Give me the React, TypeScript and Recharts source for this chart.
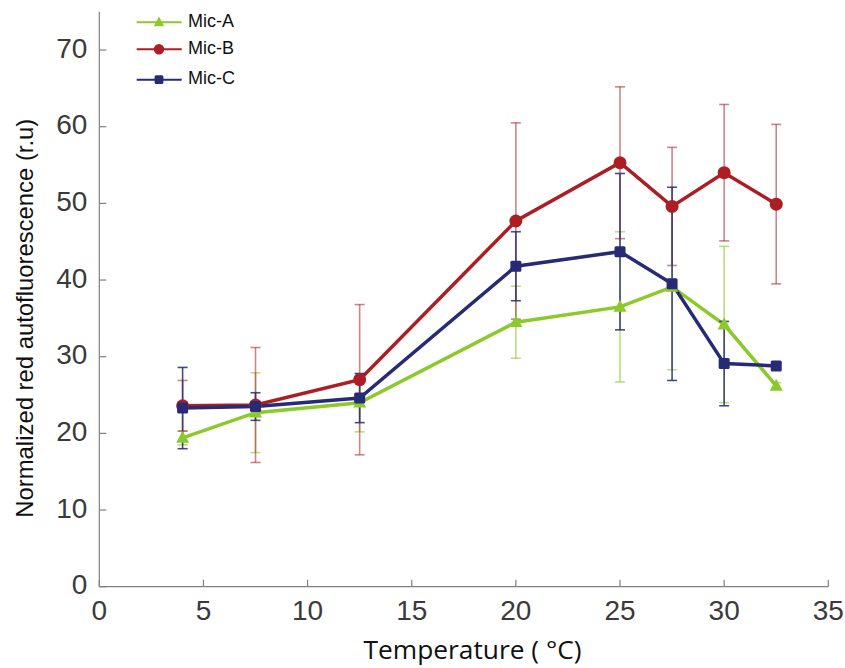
import { LineChart, Line, XAxis, YAxis, ErrorBar, Legend, Label } from 'recharts';

// temperature (°C) of each measurement
const temps = [4, 7.5, 12.5, 20, 25, 27.5, 30, 32.5];

const micA = [19.4, 22.7, 24.0, 34.5, 36.5, 39.1, 34.2, 26.2];
const micAErr = [0.9, 5.2, 3.8, 4.7, 9.8, 10.8, 10.2, 0.4];

const micB = [23.6, 23.7, 27.0, 47.7, 55.3, 49.6, 54.0, 49.9];
const micBErr = [3.3, 7.5, 9.8, 12.8, 9.9, 7.7, 8.9, 10.4];

const micC = [23.3, 23.5, 24.6, 41.8, 43.7, 39.5, 29.1, 28.8];
const micCErr = [5.3, 1.8, 3.2, 4.5, 10.2, 12.6, 5.5, 0.4];

const xTicks = [0, 5, 10, 15, 20, 25, 30, 35];
const yTicks = [0, 10, 20, 30, 40, 50, 60, 70];

const GREEN = '#8cc92a';
const RED = '#ac1e24';
const NAVY = '#272b75';

const data = temps.map((t, i) => ({
  t,
  a: micA[i],
  aErr: micAErr[i],
  b: micB[i],
  bErr: micBErr[i],
  c: micC[i],
  cErr: micCErr[i],
}));

const triangle = (cx: number, cy: number, s: number, color: string) => (
  <polygon
    points={`${cx},${cy - s * 1.1} ${cx - s},${cy + s * 0.75} ${cx + s},${cy + s * 0.75}`}
    fill={color}
  />
);
const circle = (cx: number, cy: number, s: number, color: string) => (
  <circle cx={cx} cy={cy} r={s} fill={color} />
);
const square = (cx: number, cy: number, s: number, color: string) => (
  <rect x={cx - s} y={cy - s} width={s * 2} height={s * 2} rx={1.5} fill={color} />
);

const series = [
  { key: 'a', name: 'Mic-A', color: GREEN, err: 'rgba(140,201,42,0.6)', shape: triangle, size: 6.5 },
  { key: 'b', name: 'Mic-B', color: RED, err: 'rgba(172,30,36,0.55)', shape: circle, size: 6.5 },
  { key: 'c', name: 'Mic-C', color: NAVY, err: 'rgba(39,43,117,0.85)', shape: square, size: 5.5 },
];

const XTick = ({ x, y, payload }: any) => (
  <g>
    <line x1={x} x2={x} y1={y} y2={y - 7} stroke="#808080" strokeWidth={1.2} />
    <text x={x} y={y + 33} textAnchor="middle" fontSize={28} fill="#3a3a3a" fontFamily="Liberation Sans, Arial, sans-serif">
      {payload.value}
    </text>
  </g>
);

const YTick = ({ x, y, payload }: any) => (
  <g>
    <line x1={x} x2={x + 7} y1={y} y2={y} stroke="#808080" strokeWidth={1.2} />
    <text x={x - 12} y={y + 7.5} textAnchor="end" fontSize={28} fill="#3a3a3a" fontFamily="Liberation Sans, Arial, sans-serif">
      {payload.value}
    </text>
  </g>
);

const legendRows = [22.3, 49.3, 79.7];

const renderLegend = () => (
  <svg width={845} height={100}>
    {series.map((s, i) => (
      <g key={s.key}>
        <line x1={136.7} x2={181.7} y1={legendRows[i]} y2={legendRows[i]} stroke={s.color} strokeWidth={2} />
        {s.shape(159, legendRows[i], s.size * 0.8, s.color)}
        <text x={188} y={legendRows[i] + 4.5} fontSize={18} fill="#111" fontFamily="Liberation Sans, Arial, sans-serif">
          {s.name}
        </text>
      </g>
    ))}
  </svg>
);

export default function App() {
  return (
    <div style={{ position: 'absolute', left: 0, top: 0 }}>
      <LineChart width={845} height={668} data={data} margin={{ top: 11.7, right: 16.7, left: 19.3, bottom: 21.3 }}>
        <XAxis
          dataKey="t"
          type="number"
          domain={[0, 35]}
          ticks={xTicks}
          height={60}
          tickSize={0}
          tickMargin={0}
          tickLine={false}
          tick={<XTick />}
          axisLine={{ stroke: '#808080', strokeWidth: 1.2 }}
        >
          <Label
            content={({ viewBox }: any) => (
              <text
                x={viewBox.x + viewBox.width / 2 + 8.7}
                y={viewBox.y + 72.6}
                textAnchor="middle"
                fontSize={25}
                fill="#111"
                fontFamily="Open Sans, Liberation Sans, sans-serif"
                textLength={218}
                lengthAdjust="spacingAndGlyphs"
              >
                Temperature ( °C)
              </text>
            )}
          />
        </XAxis>
        <YAxis
          type="number"
          domain={[0, 75]}
          ticks={yTicks}
          width={80}
          tickSize={0}
          tickMargin={0}
          tickLine={false}
          tick={<YTick />}
          axisLine={{ stroke: '#808080', strokeWidth: 1.2 }}
        >
          <Label
            content={({ viewBox }: any) => {
              const cy = viewBox.y + viewBox.height / 2 + 19;
              return (
                <text
                  x={33}
                  y={cy}
                  transform={`rotate(-90, 33, ${cy})`}
                  textAnchor="middle"
                  fontSize={24}
                  fill="#111"
                  fontFamily="Liberation Sans, Arial, sans-serif"
                  textLength={399}
                  lengthAdjust="spacingAndGlyphs"
                >
                  Normalized red autofluorescence (r.u)
                </text>
              );
            }}
          />
        </YAxis>
        <Legend
          layout="vertical"
          align="center"
          verticalAlign="middle"
          content={renderLegend}
          wrapperStyle={{ left: 0, top: 0, width: 845, height: 100 }}
        />
        {series.map((s) => (
          <Line
            key={s.key}
            dataKey={s.key}
            name={s.name}
            type="linear"
            stroke={s.color}
            strokeWidth={3.5}
            isAnimationActive={false}
            dot={(p: any) => <g key={`${s.key}-${p.index}`}>{s.shape(p.cx, p.cy, s.size, s.color)}</g>}
            activeDot={false}
          >
            <ErrorBar dataKey={`${s.key}Err`} direction="y" width={5} stroke={s.err} strokeWidth={1.6} isAnimationActive={false} />
          </Line>
        ))}
      </LineChart>
    </div>
  );
}
